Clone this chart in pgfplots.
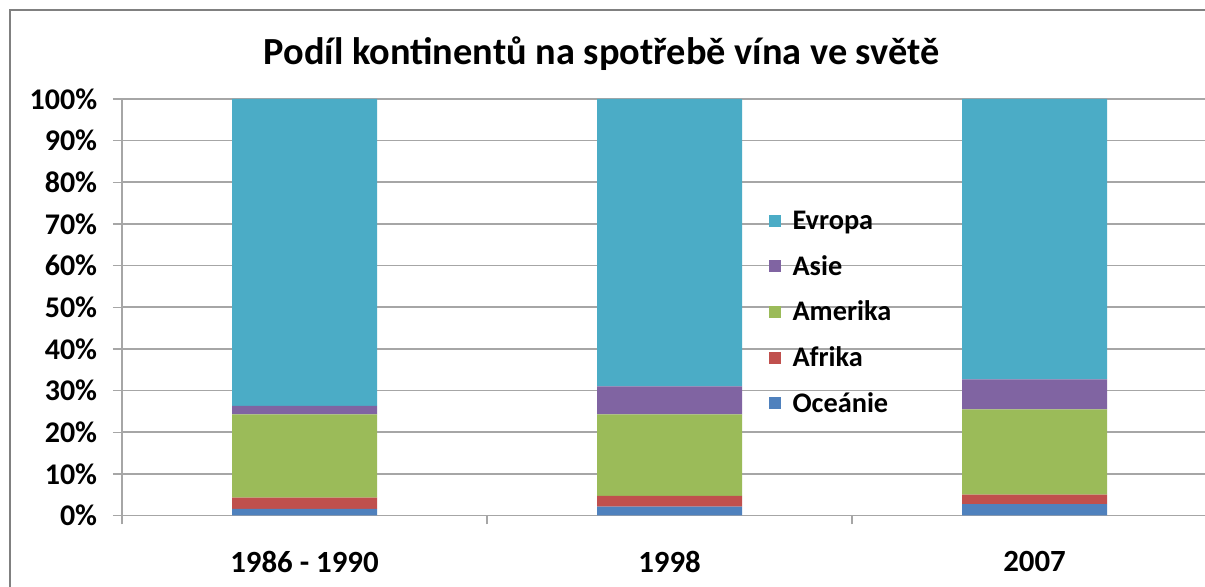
\documentclass[border=0pt]{standalone}
\usepackage{pgfplots}
\pgfplotsset{compat=1.18}
\usepackage{fontspec}
\setmainfont{Carlito}
\definecolor{cEvropa}{HTML}{4BACC6}
\definecolor{cAsie}{HTML}{8064A2}
\definecolor{cAmerika}{HTML}{9BBB59}
\definecolor{cAfrika}{HTML}{C0504D}
\definecolor{cOceanie}{HTML}{4F81BD}
\definecolor{gridgray}{HTML}{A6A6A6}
\begin{document}
\begin{tikzpicture}
\useasboundingbox (0,0) rectangle (723pt,352.2pt);
\fill[white] (0,0) rectangle (723pt,352.2pt);
\draw[gray, line width=1.2pt] (6pt,0) -- (6pt,346.2pt) -- (723pt,346.2pt);
\node[font=\bfseries\fontsize{23}{27}\selectfont] at (361pt,320pt) {Podíl kontinentů na spotřebě vína ve světě};
\begin{axis}[
  at={(73.2pt,42.9pt)}, anchor=south west,
  scale only axis, width=649.8pt, height=249.9pt,
  ybar stacked, bar width=87pt,
  xmin=-0.5, xmax=2.467, ymin=0, ymax=100,
  axis x line=bottom, axis y line=left,
  axis line style={draw=gridgray, line width=1pt, -},
  ytick={0,10,...,100},
  yticklabel={\pgfmathprintnumber{\tick}\%},
  /pgf/number format/assume math mode=true,
  ymajorgrids, grid style={draw=gridgray, line width=1pt},
  tick align=outside, major tick length=5.4pt,
  tick style={draw=gridgray, line width=0.8pt},
  xtick={-0.5,0.5,1.5}, xticklabels={},
  extra x ticks={0,1,2},
  extra x tick labels={1986 - 1990,1998,2007},
  extra x tick style={major tick length=0pt, grid=none},
  yticklabel style={xshift=-6pt, font=\bfseries\fontsize{18}{21}\selectfont},
  xticklabel style={yshift=-18pt, font=\bfseries\fontsize{18.5}{22}\selectfont},
  legend style={draw=none, fill=none, at={(0.597,0.74)}, anchor=north west,
    font=\bfseries\fontsize{17}{20}\selectfont, row sep=10pt, inner sep=0pt,
    /tikz/every odd column/.append style={column sep=5pt}},
  legend cell align=left,
  reverse legend,
  legend image code/.code={\fill[#1] (0pt,-3.6pt) rectangle (7.2pt,3.6pt);},
  every axis plot/.append style={draw=none},
]
\addplot[fill=cOceanie] coordinates {(0,1.6) (1,2.1) (2,2.75)};
\addlegendentry{Oceánie}
\addplot[fill=cAfrika] coordinates {(0,2.7) (1,2.6) (2,2.25)};
\addlegendentry{Afrika}
\addplot[fill=cAmerika] coordinates {(0,20.0) (1,19.6) (2,20.5)};
\addlegendentry{Amerika}
\addplot[fill=cAsie] coordinates {(0,2.0) (1,6.7) (2,7.2)};
\addlegendentry{Asie}
\addplot[fill=cEvropa] coordinates {(0,73.7) (1,69.0) (2,67.3)};
\addlegendentry{Evropa}
\end{axis}
\end{tikzpicture}
\end{document}
